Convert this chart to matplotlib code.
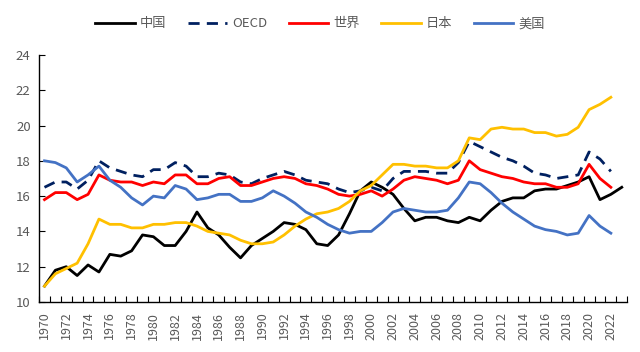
import matplotlib
matplotlib.use("Agg")
import matplotlib.pyplot as plt
import numpy as np

plt.rcParams['font.family'] = ['Noto Sans CJK SC', 'DejaVu Sans']

# data
years = list(range(1970, 2024))

china = [10.9, 11.8, 12.0, 11.5, 12.1, 11.7, 12.7, 12.6, 12.9, 13.8,
         13.7, 13.2, 13.2, 14.0, 15.1, 14.2, 13.8, 13.1, 12.5, 13.2,
         13.6, 14.0, 14.5, 14.4, 14.1, 13.3, 13.2, 13.8, 15.0, 16.3,
         16.8, 16.5, 16.1, 15.3, 14.6, 14.8, 14.8, 14.6, 14.5, 14.8,
         14.6, 15.2, 15.7, 15.9, 15.9, 16.3, 16.4, 16.4, 16.6, 16.8,
         17.1, 15.8, 16.1, 16.5]

oecd = [16.5, 16.8, 16.8, 16.4, 16.9, 18.0, 17.6, 17.4, 17.2, 17.1,
        17.5, 17.5, 17.9, 17.7, 17.1, 17.1, 17.3, 17.2, 16.8, 16.7,
        17.0, 17.2, 17.4, 17.2, 16.9, 16.8, 16.7, 16.4, 16.2, 16.3,
        16.5, 16.3, 17.0, 17.4, 17.4, 17.4, 17.3, 17.3, 17.9, 19.1,
        18.8, 18.5, 18.2, 18.0, 17.7, 17.3, 17.2, 17.0, 17.1, 17.2,
        18.5, 18.1, 17.4]

world = [15.8, 16.2, 16.2, 15.8, 16.1, 17.2, 16.9, 16.8, 16.8, 16.6,
         16.8, 16.7, 17.2, 17.2, 16.7, 16.7, 17.0, 17.1, 16.6, 16.6,
         16.8, 17.0, 17.1, 17.0, 16.7, 16.6, 16.4, 16.1, 16.0, 16.1,
         16.3, 16.0, 16.4, 16.9, 17.1, 17.0, 16.9, 16.7, 16.9, 18.0,
         17.5, 17.3, 17.1, 17.0, 16.8, 16.7, 16.7, 16.5, 16.5, 16.7,
         17.8, 17.0, 16.5]

japan = [10.9, 11.6, 11.9, 12.2, 13.3, 14.7, 14.4, 14.4, 14.2, 14.2,
         14.4, 14.4, 14.5, 14.5, 14.3, 14.0, 13.9, 13.8, 13.5, 13.3,
         13.3, 13.4, 13.8, 14.3, 14.7, 15.0, 15.1, 15.3, 15.7, 16.3,
         16.6, 17.2, 17.8, 17.8, 17.7, 17.7, 17.6, 17.6, 18.0, 19.3,
         19.2, 19.8, 19.9, 19.8, 19.8, 19.6, 19.6, 19.4, 19.5, 19.9,
         20.9, 21.2, 21.6]

usa = [18.0, 17.9, 17.6, 16.8, 17.2, 17.7, 16.9, 16.5, 15.9, 15.5,
       16.0, 15.9, 16.6, 16.4, 15.8, 15.9, 16.1, 16.1, 15.7, 15.7,
       15.9, 16.3, 16.0, 15.6, 15.1, 14.8, 14.4, 14.1, 13.9, 14.0,
       14.0, 14.5, 15.1, 15.3, 15.2, 15.1, 15.1, 15.2, 15.9, 16.8,
       16.7, 16.2, 15.6, 15.1, 14.7, 14.3, 14.1, 14.0, 13.8, 13.9,
       14.9, 14.3, 13.9]

fig = plt.figure(figsize=(6.4, 3.52), dpi=100)
ax = fig.add_axes([0.061, 0.142, 0.919, 0.702])

x = np.arange(len(years))
lw = 2.0
ax.plot(x[:len(china)], china, color='black', lw=lw, label='中国')
ax.plot(x[:len(oecd)], oecd, color='#002060', lw=lw, dashes=(4, 2.6), label='OECD')
ax.plot(x[:len(world)], world, color='#FF0000', lw=lw, label='世界')
ax.plot(x[:len(japan)], japan, color='#FFC000', lw=lw, label='日本')
ax.plot(x[:len(usa)], usa, color='#4472C4', lw=lw, label='美国')

ax.set_xlim(-0.5, len(years) - 0.5)
ax.set_ylim(10, 24)
ax.set_yticks(np.arange(10, 25, 2))

# Excel-style category axis: labels every 2 years, ticks between categories
ax.set_xticks(x[::2])
ax.set_xticklabels([str(y) for y in years[::2]], rotation=90)
ax.set_xticks(np.arange(-0.5, len(years), 1), minor=True)
ax.tick_params(axis='x', which='major', length=0, pad=7, labelsize=9, labelcolor='#595959')
ax.tick_params(axis='x', which='minor', length=4, width=0.8, direction='in')
ax.tick_params(axis='y', length=4, width=0.8, direction='in', pad=6,
               labelsize=9.5, labelcolor='#595959')

for s in ['top', 'right']:
    ax.spines[s].set_visible(False)
for s in ['left', 'bottom']:
    ax.spines[s].set_linewidth(1.0)
    ax.spines[s].set_color('black')

fig.legend(loc='upper center', bbox_to_anchor=(0.5, 0.985), ncol=5, frameon=False,
           fontsize=9.5, handlelength=3.0, columnspacing=1.6, handletextpad=0.4,
           labelcolor='#595959')

fig.savefig('out.png', dpi=100)
